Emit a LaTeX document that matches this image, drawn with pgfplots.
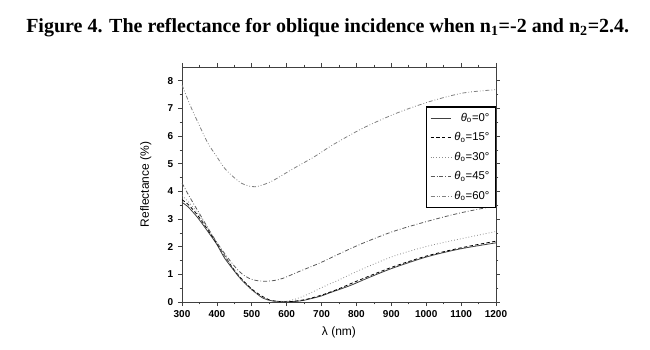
\documentclass[border=0pt]{standalone}
\usepackage{fontspec}
\setmainfont{Liberation Serif}
\setsansfont{Liberation Sans}
\usepackage{pgfplots}
\pgfplotsset{compat=1.18}
\begin{document}
\begin{tikzpicture}
\useasboundingbox (-136.5pt,-36pt) rectangle (351pt,226.5pt);
\begin{axis}[
  scale only axis,
  width=235.5pt, height=176.25pt,
  xmin=300, xmax=1200, ymin=0, ymax=8.5,
  xtick={300,400,...,1200}, ytick={0,1,...,8},
  minor x tick num=1, minor y tick num=1,
  tick align=outside,
  major tick length=3pt, minor tick length=1.8pt,
  axis line style={line width=0.7pt, black!75},
  every tick/.style={black!75, line width=0.5pt},
  /pgf/number format/assume math mode=true,
  /pgf/number format/1000 sep={},
  ticklabel style={font=\sffamily\bfseries\fontsize{7.5}{8}\selectfont},
  xlabel={λ (nm)}, ylabel={Reflectance (\%)},
  label style={font=\sffamily\fontsize{9}{10}\selectfont},
  xlabel style={at={(axis description cs:0.5,-0.13)}, anchor=center},
  ylabel style={at={(axis description cs:-0.115,0.5)}, anchor=center},
  legend style={at={(rel axis cs:1,0.832)}, anchor=north east, draw=black, line width=0.8pt,
    font=\sffamily\fontsize{8.5}{9}\selectfont, row sep=3pt, inner sep=2.5pt},
  legend cell align=right,
  legend image code/.code={\draw[#1] (0cm,0cm) -- (0.55cm,0cm);},
]
% theta = 0 (solid)
\addplot[black!75, line width=0.6pt, smooth, tension=0.5] coordinates {
(300,3.60) (316,3.46) (345,3.05) (374,2.55) (400,2.08) (422,1.59) (450,1.12) (470,0.81) (500,0.45) (532,0.14) (560,0.04) (600,0.01) (640,0.04) (666,0.11) (700,0.22) (723,0.33) (781,0.59) (833,0.87) (905,1.23) (1001,1.63) (1097,1.92) (1200,2.14)};
% theta = 15 (dashed)
\addplot[black, line width=0.6pt, dash pattern=on 2.5pt off 1.8pt, smooth, tension=0.5] coordinates {
(300,3.70) (320,3.50) (350,3.05) (400,2.12) (450,1.15) (500,0.47) (550,0.08) (600,0.01) (650,0.08) (700,0.25) (750,0.48) (800,0.75) (900,1.25) (1000,1.66) (1100,1.96) (1200,2.20)};
% theta = 30 (dotted)
\addplot[black!45, line width=0.6pt, dash pattern=on 0.6pt off 1.6pt, smooth, tension=0.5] coordinates {
(300,3.85) (320,3.60) (350,3.12) (400,2.15) (450,1.15) (500,0.43) (550,0.08) (600,0.03) (650,0.22) (700,0.52) (750,0.80) (809,1.15) (905,1.65) (1001,2.01) (1097,2.28) (1200,2.55)};
% theta = 45 (dash dot)
\addplot[black!65, line width=0.6pt, dash pattern=on 3pt off 1.5pt on 0.6pt off 1.5pt, smooth, tension=0.5] coordinates {
(300,4.30) (321,3.82) (350,3.20) (400,2.15) (450,1.30) (479,0.95) (505,0.80) (535,0.75) (565,0.78) (590,0.86) (637,1.11) (695,1.41) (752,1.75) (819,2.13) (905,2.55) (1001,2.91) (1097,3.22) (1200,3.48)};
% theta = 60 (dash dot dot)
\addplot[black!50, line width=0.6pt, dash pattern=on 3pt off 1.5pt on 0.6pt off 1.5pt on 0.6pt off 1.5pt, smooth, tension=0.5] coordinates {
(300,7.85) (325,7.07) (350,6.38) (374,5.75) (400,5.25) (422,4.84) (445,4.55) (470,4.30) (490,4.20) (510,4.17) (535,4.25) (565,4.42) (613,4.78) (680,5.26) (733,5.69) (819,6.29) (915,6.83) (1010,7.25) (1106,7.56) (1200,7.68)};
\legend{\textit{θ}\textsubscript{o}=0°, \textit{θ}\textsubscript{o}=15°, \textit{θ}\textsubscript{o}=30°, \textit{θ}\textsubscript{o}=45°, \textit{θ}\textsubscript{o}=60°}
\end{axis}
\node[font=\rmfamily\bfseries\fontsize{15}{17}\selectfont, anchor=center] at (109.3pt,206pt)
  {Figure 4. The reflectance for oblique incidence when n\textsubscript{1}=-2 and n\textsubscript{2}=2.4.};
\end{tikzpicture}
\end{document}
